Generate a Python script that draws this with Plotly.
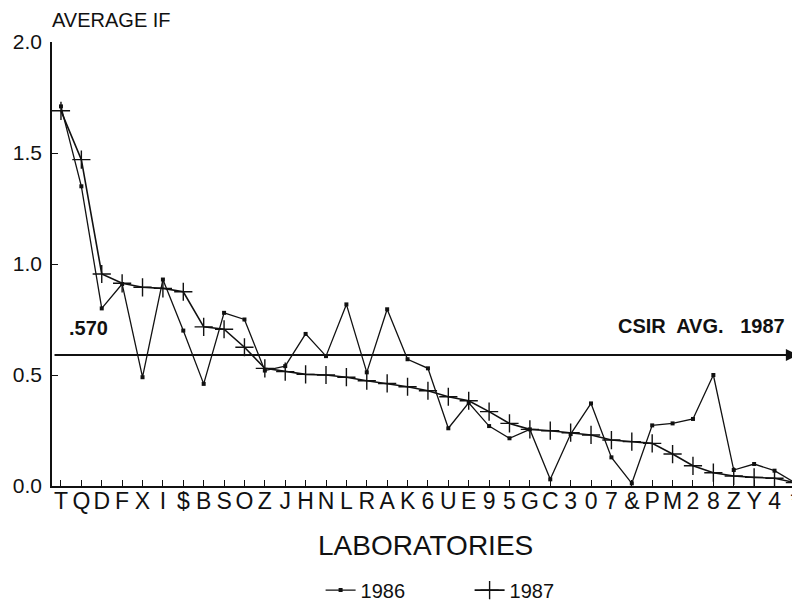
import plotly.graph_objects as go

labs = ["T", "Q", "D", "F", "X", "I", "$", "B", "S", "O", "Z", "J", "H", "N", "L", "R",
        "A", "K", "6", "U", "E", "9", "5", "G", "C", "3", "0", "7", "&", "P", "M", "2",
        "8", "Z", "Y", "4", "*"]

if_1986 = [1.71, 1.35, 0.80, 0.91, 0.49, 0.93, 0.70, 0.46, 0.78, 0.75, 0.52, 0.54,
           0.685, 0.585, 0.818, 0.512, 0.796, 0.571, 0.53, 0.26, 0.375, 0.27, 0.215,
           0.255, 0.03, 0.234, 0.372, 0.129, 0.012, 0.273, 0.282, 0.302, 0.50, 0.072,
           0.099, 0.069, 0.015]

if_1987 = [1.69, 1.47, 0.955, 0.913, 0.895, 0.89, 0.875, 0.717, 0.706, 0.625, 0.53,
           0.515, 0.503, 0.50, 0.49, 0.474, 0.462, 0.447, 0.429, 0.402, 0.384, 0.335,
           0.282, 0.255, 0.249, 0.24, 0.23, 0.207, 0.20, 0.192, 0.144, 0.091, 0.06,
           0.045, 0.039, 0.035, 0.015]

csir_avg = 0.59
csir_label = ".570"
y_ticks = [0.0, 0.5, 1.0, 1.5, 2.0]
y_ticktext = ["0.0", "0.5", "1.0", "1.5", "2.0"]

x_idx = list(range(len(labs)))
FONT = "Liberation Sans, Arial, sans-serif"
INK = "#111111"

fig = go.Figure()
fig.add_trace(go.Scatter(
    x=x_idx, y=if_1986, mode="lines+markers", name="1986",
    line=dict(color=INK, width=1.3),
    marker=dict(symbol="square", size=4, color=INK),
    cliponaxis=False,
))
fig.add_trace(go.Scatter(
    x=x_idx, y=if_1987, mode="lines+markers", name="1987",
    line=dict(color=INK, width=1.6),
    marker=dict(symbol="cross-thin", size=13, color=INK, line=dict(color=INK, width=1.4)),
    cliponaxis=False,
))

x_lo, x_hi = -0.44, 36.25

# CSIR average arrow line
fig.add_annotation(
    x=x_hi - 0.1, y=csir_avg, ax=x_lo + 0.05, ay=csir_avg,
    xref="x", yref="y", axref="x", ayref="y",
    showarrow=True, arrowhead=2, arrowsize=1.1, arrowwidth=2.2, arrowcolor=INK, text="",
)
fig.add_annotation(
    x=1.33, y=csir_avg + 0.12, xref="x", yref="y", text="<b>" + csir_label + "</b>",
    showarrow=False, xanchor="center", yanchor="middle",
    font=dict(family=FONT, size=20, color=INK),
)
fig.add_annotation(
    x=35.6, y=csir_avg + 0.13, xref="x", yref="y", text="<b>CSIR  AVG.   1987</b>",
    showarrow=False, xanchor="right", yanchor="middle",
    font=dict(family=FONT, size=20, color=INK),
)

fig.add_annotation(
    x=-0.003, y=1.05, xref="paper", yref="paper", text="AVERAGE IF",
    showarrow=False, xanchor="left", yanchor="middle",
    font=dict(family=FONT, size=20, color=INK),
)
fig.add_annotation(
    x=0.499, y=-0.135, xref="paper", yref="paper", text="LABORATORIES",
    showarrow=False, xanchor="center", yanchor="middle",
    font=dict(family=FONT, size=28, color=INK),
)

fig.update_xaxes(
    range=[x_lo, x_hi], tickmode="array", tickvals=x_idx, ticktext=labs,
    showline=True, linecolor=INK, linewidth=2, ticks="inside", ticklen=6,
    tickcolor=INK, tickwidth=1.2, showgrid=False, zeroline=False, automargin=False,
    tickfont=dict(family=FONT, size=23, color=INK), ticklabelstandoff=-7,
    ticklabeloverflow="allow",
)
fig.update_yaxes(
    range=[0, 2], tickmode="array", tickvals=y_ticks, ticktext=y_ticktext,
    showline=True, linecolor=INK, linewidth=1.5, ticks="inside", ticklen=6,
    tickcolor=INK, tickwidth=1.2, showgrid=False, zeroline=False, automargin=False,
    tickfont=dict(family=FONT, size=21, color=INK), ticklabelstandoff=4,
)

# page body has an 8px margin: offset the plot area so it lands where it should
fig.update_layout(
    width=800, height=597,
    margin=dict(l=44, r=8, t=34, b=119),
    plot_bgcolor="white", paper_bgcolor="white",
    font=dict(family=FONT, color=INK),
    legend=dict(orientation="h", xref="container", yref="container",
                x=0.577, y=0.025, xanchor="center", yanchor="middle",
                font=dict(family=FONT, size=20, color=INK), entrywidth=104,
                bgcolor="rgba(0,0,0,0)"),
)

fig.write_html("out.html")
